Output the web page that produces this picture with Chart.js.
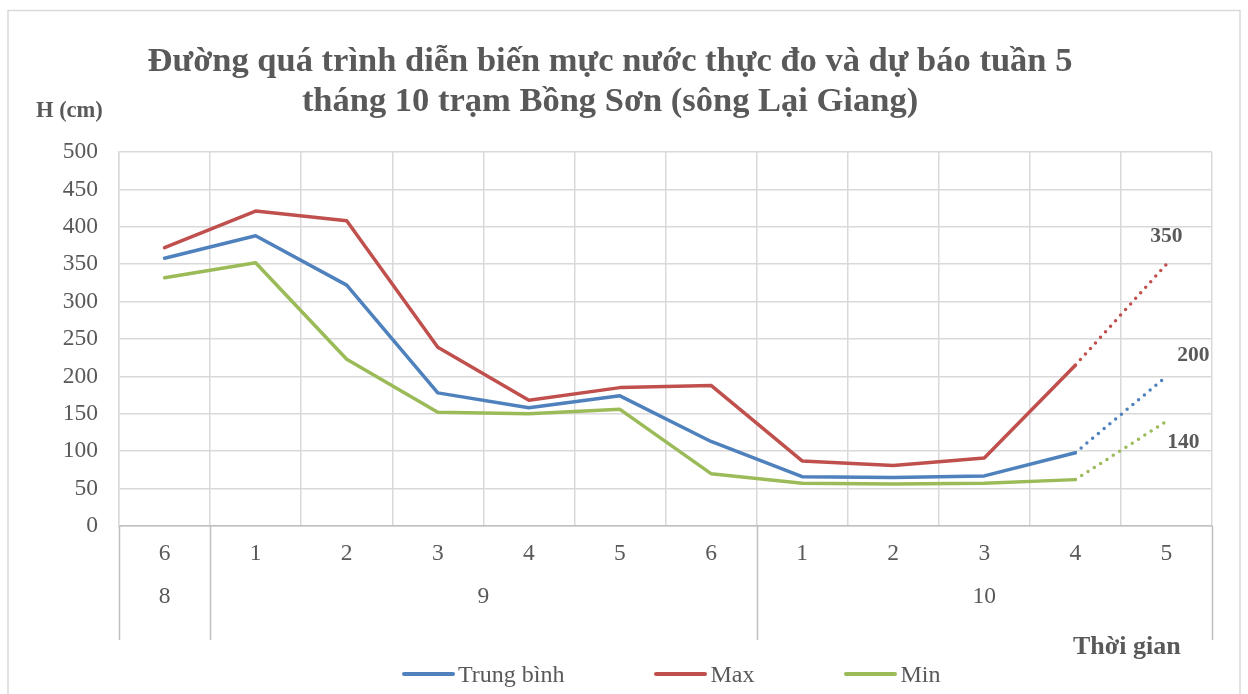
<!DOCTYPE html>
<html>
<head>
<meta charset="utf-8">
<script src="https://cdn.jsdelivr.net/npm/chart.js@4/dist/chart.umd.min.js"></script>
<style>
  html, body { margin: 0; padding: 0; background: #fff; }
  #wrap { position: relative; width: 1248px; height: 694px; }
  #legend {
    position: absolute; left: 402px; top: 660px;
    display: flex; gap: 90px;
    font: 24px 'Liberation Serif', 'Times New Roman', serif;
    line-height: 28px; color: #595959;
  }
  #legend .item { display: flex; align-items: center; }
  #legend .swatch { width: 53px; height: 4px; border-radius: 2px; margin-right: 3px; }
</style>
</head>
<body>
<div id="wrap">
  <canvas id="waterChart" width="1248" height="694"></canvas>
  <div id="legend"></div>
</div>
<script>
const weekLabels = ['6', '1', '2', '3', '4', '5', '6', '1', '2', '3', '4', '5'];
const monthLabels = ['8', '9', '10'];
const monthSpans = [1, 6, 5];

const trungBinh = [358, 388, 322, 178, 158, 174, 113, 66, 65, 67, 98, 200];
const maxLevel  = [372, 421, 408, 239, 168, 185, 188, 87, 81, 91, 215, 350];
const minLevel  = [332, 352, 223, 152, 150, 156, 70, 57, 56, 57, 62, 140];

const forecastIndex = 11;
const titleLines = [
    'Đường quá trình diễn biến mực nước thực đo và dự báo tuần 5',
    'tháng 10 trạm Bồng Sơn (sông Lại Giang)',
];

const FONT = "'Liberation Serif', 'Times New Roman', serif";
const TEXT = '#595959';
const GRID = '#d9d9d9';

// month group centres / edges, in category index units
const monthCenters = [];
const monthEdges = [-0.5];
let start = 0;
monthSpans.forEach(n => {
    monthCenters.push(start + (n - 1) / 2);
    start += n;
    monthEdges.push(start - 0.5);
});

const dotted = ctx => ctx.p1DataIndex === forecastIndex ? [0, 7.5] : undefined;

const lineSet = (label, data, color) => ({
    label,
    data,
    borderColor: color,
    backgroundColor: color,
    borderWidth: 3.5,
    borderCapStyle: 'round',
    borderJoinStyle: 'round',
    pointRadius: 0,
    pointHoverRadius: 0,
    tension: 0,
    segment: { borderDash: dotted },
});

const labelOffsets = [[27, -21], [0, -28], [17, 21]];

const extras = {
    id: 'extras',
    beforeDraw(chart) {
        const c = chart.ctx;
        c.save();
        c.fillStyle = '#fff';
        c.fillRect(0, 0, chart.width, chart.height);
        c.strokeStyle = GRID;
        c.lineWidth = 1.5;
        c.strokeRect(8, 10.5, 1232, 700);
        c.restore();
    },
    afterDraw(chart) {
        const c = chart.ctx;
        const area = chart.chartArea;
        const x2 = chart.scales.x2;
        c.save();

        // month separators below the plot
        c.strokeStyle = '#bfbfbf';
        c.lineWidth = 1.5;
        monthEdges.forEach(e => {
            const px = Math.round(x2.getPixelForValue(e)) + 0.5;
            c.beginPath();
            c.moveTo(px, area.bottom);
            c.lineTo(px, area.bottom + 114);
            c.stroke();
        });

        c.fillStyle = TEXT;
        c.textBaseline = 'middle';

        c.font = `bold 34.5px ${FONT}`;
        c.textAlign = 'center';
        c.fillText(titleLines[0], 610, 62);
        c.fillText(titleLines[1], 610, 102);

        c.font = `bold 22.5px ${FONT}`;
        c.textAlign = 'left';
        c.fillText('H (cm)', 36, 111);

        c.font = `bold 26px ${FONT}`;
        c.fillText('Thời gian', 1073, 647);

        // forecast values
        c.font = `bold 21.5px ${FONT}`;
        c.textAlign = 'center';
        chart.data.datasets.forEach((ds, i) => {
            const pt = chart.getDatasetMeta(i).data[forecastIndex];
            const [dx, dy] = labelOffsets[i];
            c.fillText(String(ds.data[forecastIndex]), pt.x + dx, pt.y + dy);
        });
        c.restore();
    },
};

const htmlLegend = {
    id: 'htmlLegend',
    afterUpdate(chart) {
        const box = document.getElementById('legend');
        box.innerHTML = '';
        chart.data.datasets.forEach(ds => {
            const item = document.createElement('div');
            item.className = 'item';
            const swatch = document.createElement('span');
            swatch.className = 'swatch';
            swatch.style.background = ds.borderColor;
            const text = document.createElement('span');
            text.textContent = ds.label;
            item.append(swatch, text);
            box.append(item);
        });
    },
};

const tickFont = { family: FONT, size: 23.5 };

new Chart(document.getElementById('waterChart'), {
    type: 'line',
    data: {
        labels: weekLabels,
        datasets: [
            lineSet('Trung bình', trungBinh, '#4f81bd'),
            lineSet('Max', maxLevel, '#c0504d'),
            lineSet('Min', minLevel, '#9bbb59'),
        ],
    },
    options: {
        responsive: false,
        animation: false,
        layout: { padding: { top: 152, left: 0, right: 36, bottom: 54 } },
        plugins: {
            tooltip: { enabled: false },
            title: { display: false },
            legend: { display: false },
        },
        scales: {
            x: {
                offset: true,
                grid: { color: GRID, lineWidth: 1.5, offset: true, drawTicks: false },
                border: { color: '#bfbfbf', width: 1.5 },
                ticks: { color: TEXT, font: tickFont, padding: 14, maxRotation: 0, autoSkip: false },
                afterFit: s => { s.height = 50; },
            },
            x2: {
                type: 'linear',
                position: 'bottom',
                min: -0.5,
                max: 11.5,
                grid: { display: false, drawTicks: false },
                border: { display: false },
                afterBuildTicks: s => { s.ticks = monthCenters.map(v => ({ value: v })); },
                ticks: {
                    autoSkip: false,
                    maxRotation: 0,
                    padding: 7,
                    color: TEXT,
                    font: tickFont,
                    callback: v => monthLabels[monthCenters.indexOf(v)],
                },
                afterFit: s => { s.height = 64; },
            },
            y: {
                min: 0,
                max: 500,
                ticks: { stepSize: 50, color: TEXT, font: tickFont, padding: 21 },
                grid: { color: GRID, lineWidth: 1.5, drawTicks: false },
                border: { color: GRID, width: 1.5 },
                afterFit: s => { s.width = 119; },
            },
        },
    },
    plugins: [extras, htmlLegend],
});
</script>
</body>
</html>
